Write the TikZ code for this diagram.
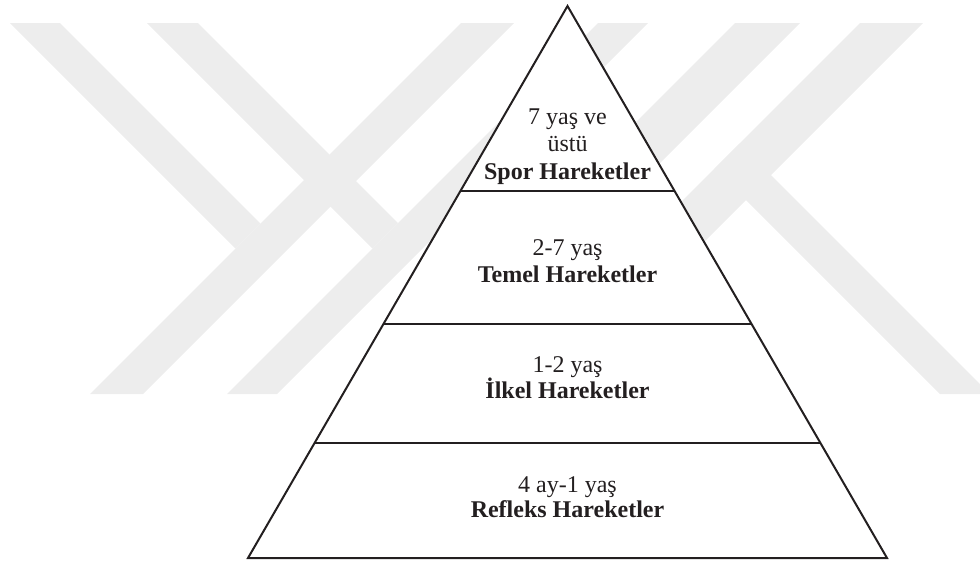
\documentclass[tikz,border=0pt]{standalone}
\usepackage{fontspec}
\setmainfont{Liberation Serif}
\usetikzlibrary{calc}
\definecolor{wmark}{gray}{0.93}
\definecolor{ink}{RGB}{35,31,32}
\tikzset{
  band/.style={fill=wmark},
  layer/.style={draw=ink,line width=1pt},
  age/.style={anchor=base,inner sep=0pt,text=ink,font=\fontsize{12}{13.5}\selectfont},
  stage/.style={age,font=\fontsize{12}{13.5}\selectfont\bfseries}
}

\begin{document}
\begin{tikzpicture}[x=0.5pt,y=-0.5pt]
%  \draw[gray] (0,0) rectangle (980,564);
  \path[use as bounding box] (0,0) rectangle (980,564);
  % watermark in the background
  \fill[band] ( 10,23) -- ( 60,23) -- (260.5,223.5) -- (235.5,248.5) -- cycle;
  \fill[band] (461,23) -- (514,23) -- (143,394) -- ( 90,394) -- cycle;
  \fill[band] (147,23) -- (198,23) -- (398.0,223.0) -- (372.5,248.5) -- cycle;
  \fill[band] (598,23) -- (648,23) -- (277,394) -- (227,394) -- cycle;
  \fill[band] (735,23) -- (800,23) -- (429,394) -- (364,394) -- cycle;
  \fill[band] (860,23) -- (923,23) -- (552,394) -- (489,394) -- cycle;
  \fill[band] (714.5,168.5) -- (739.5,143.5) -- (980,384) -- (980,394) -- (940,394) -- cycle;
  % pyramid
  \coordinate (apex) at (567.5,6);
  \coordinate (bl) at (248,558);
  \coordinate (br) at (887,558);
  \filldraw[layer,fill=white] (apex) -- (bl) -- (br) -- cycle;
  \foreach \t in {0.3351,0.5761,0.7917}
    \draw[layer] ($(apex)!\t!(bl)$) -- ($(apex)!\t!(br)$);
  % labels
  \node[age]   (age1)   at (567.5,124) {7 yaş ve};
  \node[age]   (age1b)  at (567.5,151) {üstü};
  \node[stage] (stage1) at (567.5,179) {Spor Hareketler};
  \node[age]   (age2)   at (567.5,255) {2-7 yaş};
  \node[stage] (stage2) at (567.5,282) {Temel Hareketler};
  \node[age]   (age3)   at (567.5,372) {1-2 yaş};
  \node[stage] (stage3) at (567.5,398) {İlkel Hareketler};
  \node[age]   (age4)   at (567.5,492) {4 ay-1 yaş};
  \node[stage] (stage4) at (567.5,517) {Refleks Hareketler};
\end{tikzpicture}
\end{document}
